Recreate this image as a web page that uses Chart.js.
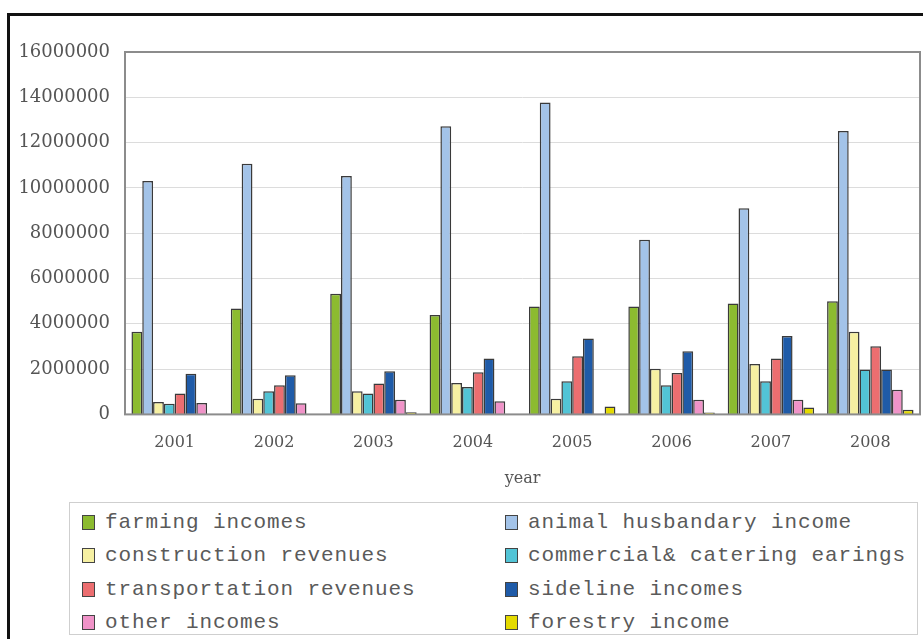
<!DOCTYPE html>
<html>
<head>
<meta charset="utf-8">
<script src="https://cdn.jsdelivr.net/npm/chart.js@4/dist/chart.umd.min.js"></script>
<style>
  html, body { margin: 0; padding: 0; background: #fff; overflow: hidden; }
  #wrap { position: relative; width: 923px; height: 639px; }
  #frame { position: absolute; left: 7px; top: 13px; width: 940px; height: 660px;
           border-left: 3px solid #111; border-top: 3px solid #111; box-sizing: border-box; }
  #chart { position: absolute; left: 0; top: 0; }
  #legend { position: absolute; left: 69px; top: 502px; width: 849px; height: 133px;
            border: 1px solid #cfcfcf; box-sizing: border-box; background: #fff; }
  .item { position: absolute; display: flex; align-items: center;
          font-family: "Liberation Mono", monospace; font-size: 21px; letter-spacing: 0.9px;
          color: #5a5a5a; white-space: nowrap; }
  .sw { width: 13px; height: 15px; border: 1.5px solid #444; margin-right: 10px; box-sizing: border-box; }
</style>
</head>
<body>
<div id="wrap">
  <div id="frame"></div>
  <canvas id="chart" width="923" height="500"></canvas>
  <div id="legend"></div>
</div>
<script>
// Household income sources by year
const years = ['2001', '2002', '2003', '2004', '2005', '2006', '2007', '2008'];

const farmingIncomes       = [3650000, 4670000, 5330000, 4390000, 4760000, 4760000, 4900000, 5000000];
const animalHusbandary     = [10300000, 11070000, 10520000, 12720000, 13770000, 7710000, 9100000, 12510000];
const constructionRevenues = [550000, 690000, 1020000, 1390000, 690000, 2020000, 2230000, 3650000];
const commercialCatering   = [470000, 1020000, 920000, 1210000, 1460000, 1290000, 1460000, 1980000];
const transportRevenues    = [920000, 1290000, 1360000, 1860000, 2570000, 1830000, 2470000, 3010000];
const sidelineIncomes      = [1800000, 1730000, 1900000, 2470000, 3350000, 2790000, 3460000, 1980000];
const otherIncomes         = [500000, 490000, 650000, 580000, 30000, 650000, 650000, 1090000];
const forestryIncome       = [10000, 10000, 90000, 20000, 350000, 80000, 310000, 200000];

const yTicks = [0, 2000000, 4000000, 6000000, 8000000, 10000000, 12000000, 14000000, 16000000];

const seriesNames = [
  'farming incomes', 'animal husbandary income',
  'construction revenues', 'commercial& catering earings',
  'transportation revenues', 'sideline incomes',
  'other incomes', 'forestry income'
];
const seriesData = [
  farmingIncomes, animalHusbandary, constructionRevenues, commercialCatering,
  transportRevenues, sidelineIncomes, otherIncomes, forestryIncome
];
const seriesColors = ['#8cbb30', '#a3c3e8', '#f6f0a2', '#52c4d6', '#ec6e70', '#1f5ba8', '#f093c8', '#e4da00'];

const datasets = seriesNames.map((name, i) => ({
  label: name,
  data: seriesData[i],
  backgroundColor: seriesColors[i],
  borderColor: '#3a3a3a',
  borderWidth: 1.5,
  borderSkipped: 'bottom',
  categoryPercentage: 0.87,
  barPercentage: 1.0
}));

// Grey box around the plotting area
const plotBox = {
  id: 'plotBox',
  afterDraw(chart) {
    const a = chart.chartArea, c = chart.ctx;
    c.save();
    c.strokeStyle = '#8c8c8c';
    c.lineWidth = 2;
    c.strokeRect(a.left, a.top, a.right - a.left, a.bottom - a.top);
    c.restore();
  }
};

const chart = new Chart(document.getElementById('chart'), {
  type: 'bar',
  data: { labels: years, datasets },
  options: {
    responsive: false,
    animation: false,
    devicePixelRatio: 1,
    layout: { padding: { left: 8, top: 52, right: 3, bottom: 12 } },
    plugins: { legend: { display: false }, tooltip: { enabled: false } },
    scales: {
      x: {
        grid: { display: false, drawTicks: false },
        border: { display: false },
        ticks: { color: '#555', padding: 20, font: { family: 'DejaVu Serif', size: 16, lineHeight: 1 } },
        title: { display: true, text: 'year', color: '#555', padding: { top: 0, bottom: 0 },
                 font: { family: 'DejaVu Serif', size: 16, lineHeight: 1.1 } }
      },
      y: {
        min: 0, max: 16000000,
        afterBuildTicks(scale) { scale.ticks = yTicks.map(v => ({ value: v })); },
        afterFit(scale) { scale.width = 117; },
        grid: { color: '#dcdcdc', lineWidth: 1, drawTicks: false },
        border: { display: false },
        ticks: { color: '#555', padding: 15, font: { family: 'DejaVu Serif', size: 18 },
                 callback: v => String(v) }
      }
    }
  },
  plugins: [plotBox]
});

// Two-column legend built from the chart's datasets
const legend = document.getElementById('legend');
chart.data.datasets.forEach((ds, i) => {
  const col = i % 2, row = Math.floor(i / 2);
  const item = document.createElement('div');
  item.className = 'item';
  item.style.left = (col === 0 ? 12 : 435) + 'px';
  item.style.top = (7.5 + row * 33.5) + 'px';
  const sw = document.createElement('span');
  sw.className = 'sw';
  sw.style.background = ds.backgroundColor;
  const tx = document.createElement('span');
  tx.textContent = ds.label;
  item.appendChild(sw);
  item.appendChild(tx);
  legend.appendChild(item);
});
</script>
</body>
</html>
